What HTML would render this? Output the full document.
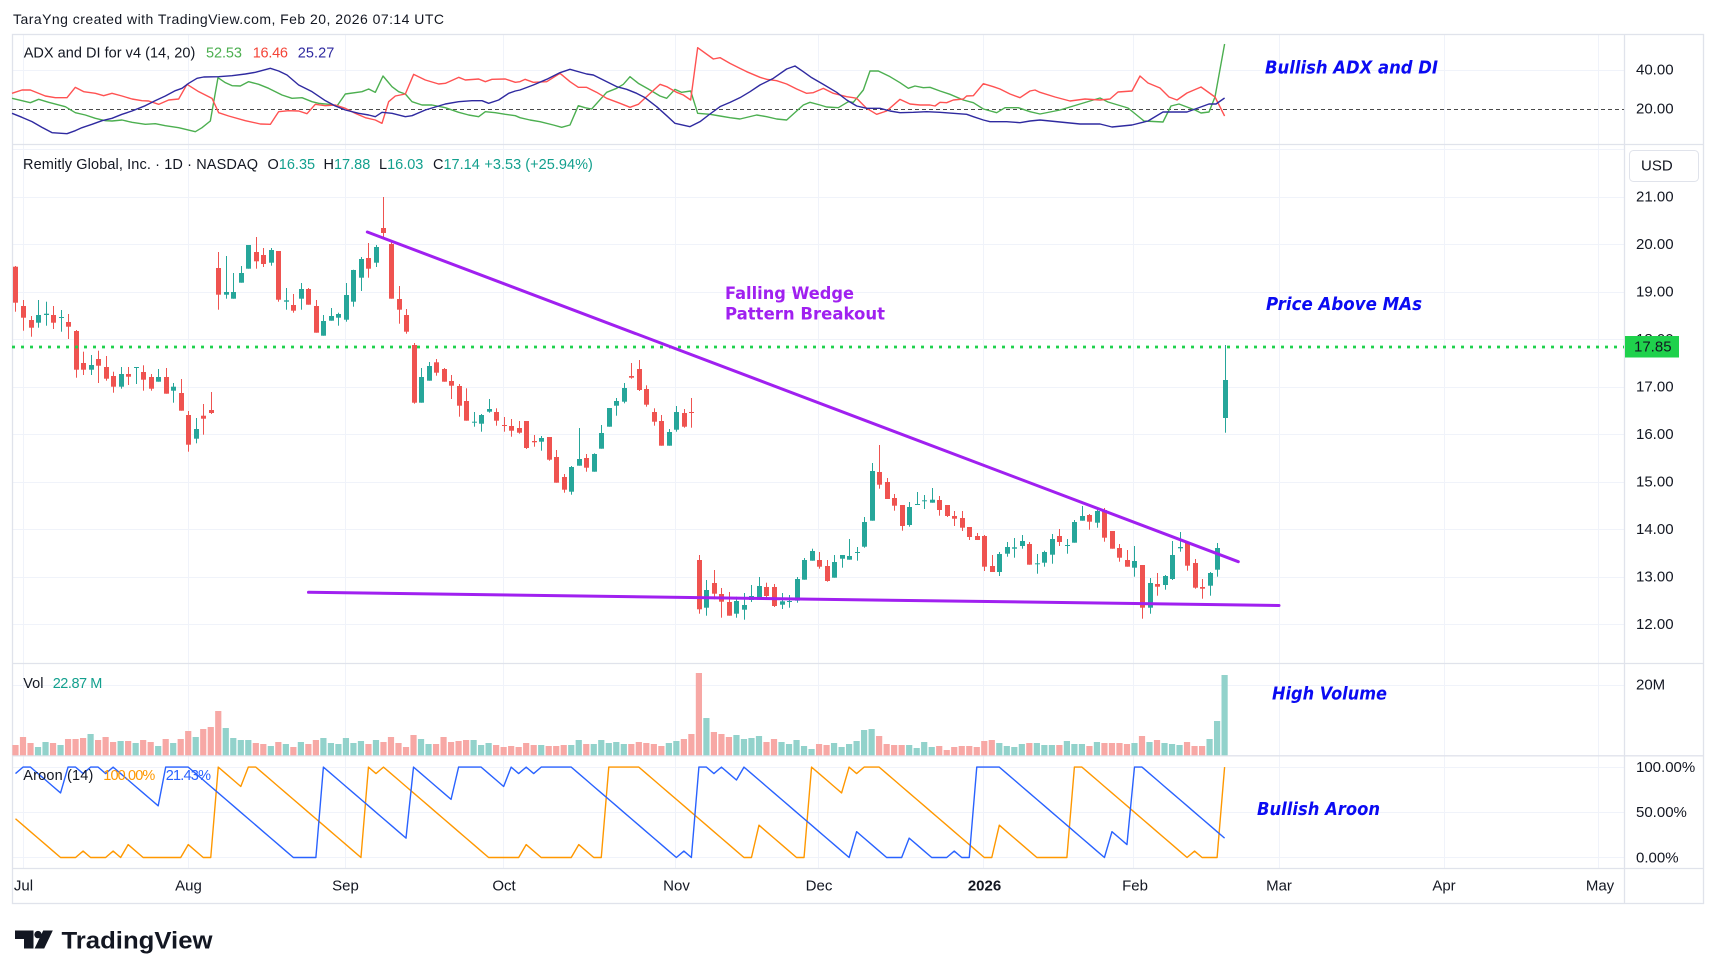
<!DOCTYPE html>
<html><head><meta charset="utf-8"><title>Remitly chart</title>
<style>
html,body{margin:0;padding:0;background:#fff;overflow:hidden}
svg{display:block}
text{font-family:"Liberation Sans",Arial,sans-serif;dominant-baseline:central}
.ax{font-size:15px;fill:#131722}
.lg{font-size:14.5px;fill:#131722}
.an{font-family:"DejaVu Sans","Liberation Sans",sans-serif;font-weight:bold;font-style:italic;font-size:17.5px;fill:#0b0bf2}
.pw{font-family:"DejaVu Sans","Liberation Sans",sans-serif;font-weight:bold;font-size:17px;fill:#a020f0}
</style></head><body>
<svg width="1717" height="978" viewBox="0 0 1717 978">
<rect x="0" y="0" width="1717" height="978" fill="#fff"/>
<g stroke="#f0f3fa" stroke-width="1">
<line x1="23.5" y1="35" x2="23.5" y2="869"/>
<line x1="188.5" y1="35" x2="188.5" y2="869"/>
<line x1="345.5" y1="35" x2="345.5" y2="869"/>
<line x1="503.5" y1="35" x2="503.5" y2="869"/>
<line x1="675.5" y1="35" x2="675.5" y2="869"/>
<line x1="818.5" y1="35" x2="818.5" y2="869"/>
<line x1="983.5" y1="35" x2="983.5" y2="869"/>
<line x1="1133.5" y1="35" x2="1133.5" y2="869"/>
<line x1="1279.5" y1="35" x2="1279.5" y2="869"/>
<line x1="1444.5" y1="35" x2="1444.5" y2="869"/>
<line x1="1598.5" y1="35" x2="1598.5" y2="869"/>
<line x1="12" y1="70.5" x2="1625" y2="70.5"/>
<line x1="12" y1="149.5" x2="1625" y2="149.5"/>
<line x1="12" y1="197.5" x2="1625" y2="197.5"/>
<line x1="12" y1="244.5" x2="1625" y2="244.5"/>
<line x1="12" y1="292.5" x2="1625" y2="292.5"/>
<line x1="12" y1="339.5" x2="1625" y2="339.5"/>
<line x1="12" y1="387.5" x2="1625" y2="387.5"/>
<line x1="12" y1="434.5" x2="1625" y2="434.5"/>
<line x1="12" y1="482.5" x2="1625" y2="482.5"/>
<line x1="12" y1="529.5" x2="1625" y2="529.5"/>
<line x1="12" y1="577.5" x2="1625" y2="577.5"/>
<line x1="12" y1="624.5" x2="1625" y2="624.5"/>
<line x1="12" y1="685.5" x2="1625" y2="685.5"/>
<line x1="12" y1="767.5" x2="1625" y2="767.5"/>
<line x1="12" y1="812.5" x2="1625" y2="812.5"/>
<line x1="12" y1="857.5" x2="1625" y2="857.5"/>
</g>
<g stroke="#e0e3eb" stroke-width="1.3" fill="none">
<rect x="12.5" y="34.5" width="1691" height="869"/>
<line x1="12" y1="144.5" x2="1704" y2="144.5"/>
<line x1="12" y1="663.5" x2="1704" y2="663.5"/>
<line x1="12" y1="755.8" x2="1704" y2="755.8"/>
<line x1="12" y1="868.5" x2="1704" y2="868.5"/>
<line x1="1624.5" y1="35" x2="1624.5" y2="903"/>
</g>

<line x1="12" y1="109.5" x2="1624" y2="109.5" stroke="#4a4a4a" stroke-width="1" stroke-dasharray="4 3"/>

<g id="ser"></g>

<line x1="12" y1="347" x2="1624" y2="347" stroke="#1fd14c" stroke-width="2.8" stroke-dasharray="3 6"/>
<line x1="367.3" y1="232" x2="1238.3" y2="561.7" stroke="#a020f0" stroke-width="3" stroke-linecap="round"/>
<line x1="308.5" y1="592.3" x2="1279" y2="605.5" stroke="#a020f0" stroke-width="3" stroke-linecap="round"/>

<!-- title -->
<text x="13" y="19" style="font-size:14px;fill:#131722" textLength="431">TaraYng created with TradingView.com, Feb 20, 2026 07:14 UTC</text>

<!-- legends -->
<text class="lg" x="23.7" y="53.3" textLength="171.6">ADX and DI for v4 (14, 20)</text>
<text class="lg" x="206" y="53.3" style="fill:#4caf50" textLength="36">52.53</text>
<text class="lg" x="252.7" y="53.3" style="fill:#f44336" textLength="35.3">16.46</text>
<text class="lg" x="297.7" y="53.3" style="fill:#2f2aa0" textLength="36.6">25.27</text>

<text class="lg" x="23" y="165" textLength="235">Remitly Global, Inc. · 1D · NASDAQ</text>
<text class="lg" x="267.5" y="165"><tspan>O</tspan><tspan style="fill:#13a08e">16.35</tspan></text>
<text class="lg" x="323.5" y="165"><tspan>H</tspan><tspan style="fill:#13a08e">17.88</tspan></text>
<text class="lg" x="379" y="165"><tspan>L</tspan><tspan style="fill:#13a08e">16.03</tspan></text>
<text class="lg" x="433" y="165"><tspan>C</tspan><tspan style="fill:#13a08e">17.14</tspan></text>
<text class="lg" x="484.4" y="165" style="fill:#13a08e" textLength="108.5">+3.53 (+25.94%)</text>

<text class="lg" x="23.3" y="684">Vol</text>
<text class="lg" x="52.7" y="684" style="fill:#13a08e" textLength="49.6">22.87 M</text>

<text class="lg" x="23.3" y="776" textLength="70">Aroon (14)</text>
<text class="lg" x="103.3" y="776" style="fill:#ff9800" textLength="52">100.00%</text>
<text class="lg" x="165.7" y="776" style="fill:#2962ff" textLength="45.3">21.43%</text>

<!-- axis labels -->
<text class="ax" x="1636" y="70">40.00</text>
<text class="ax" x="1636" y="109">20.00</text>
<rect x="1629.5" y="150.5" width="69" height="31" rx="4" fill="#fff" stroke="#e0e3eb"/>
<text class="ax" x="1641" y="166">USD</text>
<text class="ax" x="1636" y="197">21.00</text>
<text class="ax" x="1636" y="244.5">20.00</text>
<text class="ax" x="1636" y="292">19.00</text>
<text class="ax" x="1636" y="339.5">18.00</text>
<text class="ax" x="1636" y="387">17.00</text>
<text class="ax" x="1636" y="434.5">16.00</text>
<text class="ax" x="1636" y="482">15.00</text>
<text class="ax" x="1636" y="529.5">14.00</text>
<text class="ax" x="1636" y="577">13.00</text>
<text class="ax" x="1636" y="624.5">12.00</text>
<rect x="1625" y="336" width="54" height="21.5" fill="#1fd14c"/>
<text class="ax" x="1634" y="347">17.85</text>
<text class="ax" x="1636" y="685">20M</text>
<text class="ax" x="1636" y="767.5">100.00%</text>
<text class="ax" x="1636" y="812.5">50.00%</text>
<text class="ax" x="1636" y="858">0.00%</text>

<g class="ax" text-anchor="middle">
<text class="ax" x="23.5" y="886">Jul</text>
<text class="ax" x="188.5" y="886">Aug</text>
<text class="ax" x="345.5" y="886">Sep</text>
<text class="ax" x="504" y="886">Oct</text>
<text class="ax" x="676.5" y="886">Nov</text>
<text class="ax" x="819" y="886">Dec</text>
<text class="ax" x="984.5" y="886" style="font-weight:bold">2026</text>
<text class="ax" x="1135" y="886">Feb</text>
<text class="ax" x="1279" y="886">Mar</text>
<text class="ax" x="1444" y="886">Apr</text>
<text class="ax" x="1600" y="886">May</text>
</g>

<!-- annotations -->
<text class="an" x="1265" y="68.5" textLength="173" lengthAdjust="spacingAndGlyphs">Bullish ADX and DI</text>
<text class="an" x="1266" y="305" textLength="156" lengthAdjust="spacingAndGlyphs">Price Above MAs</text>
<text class="an" x="1272" y="694.5" textLength="115" lengthAdjust="spacingAndGlyphs">High Volume</text>
<text class="an" x="1257" y="810" textLength="123" lengthAdjust="spacingAndGlyphs">Bullish Aroon</text>
<text class="pw" x="725" y="294" textLength="129" lengthAdjust="spacingAndGlyphs">Falling Wedge</text>
<text class="pw" x="725" y="314.5" textLength="160" lengthAdjust="spacingAndGlyphs">Pattern Breakout</text>

<!-- logo -->
<path d="M15 930.5 H33.5 V948.5 H24 V939 H15 Z" fill="#131722"/>
<circle cx="38" cy="934.6" r="3.7" fill="#131722"/>
<path d="M43.2 930.5 H52.8 L44.2 948.5 H34.6 Z" fill="#131722"/>
<text x="61.5" y="948.3" style="dominant-baseline:auto;font-size:24.5px;font-weight:bold;fill:#131722" textLength="151" lengthAdjust="spacingAndGlyphs">TradingView</text>
</svg>

<script>
(function(){
var X=function(i){return 23+i*7.51;};
var C=[
[-1,'r',266,266.7,302.7,311.7],[0,'r',300,306,317.7,330.7],[1,'r',316,320,327.7,336.7],[2,'g',300,322.7,315,327.7],[3,'g',301.7,315,313.7,325.7],
[4,'r',306,315,322.7,329],[5,'g',310,317.7,317,331.7],[6,'r',314,322,326.7,339],[7,'r',330,331,369.7,377.7],[8,'r',351.7,363,369.7,375],
[9,'g',355,369.7,365,375],[10,'r',350.7,359,365.7,383],[11,'r',356,367,378.7,380.7],[12,'r',371.7,376,386.7,392.7],[13,'g',367,386.7,374,388.7],
[14,'r',367,374,376.7,385],[15,'g',367,368,367,384],[16,'r',365.3,372,379.7,390.7],[17,'r',374,377,388.7,390.7],[18,'g',369,381.7,377,381.7],
[19,'r',368,377,393.7,393.7],[20,'g',383,390.7,386.7,402.7],[21,'r',379,393,410.7,410.7],[22,'r',411,415,444.7,451.7],[23,'g',418,438.7,429,443.3],
[24,'r',404,415.7,418.7,434.7],[25,'r',392,410,413,414],[26,'r',252,268,294.7,309.7],[27,'g',256,294.7,292,298.7],[28,'g',273,298.7,292,298.7],
[29,'g',266,282.7,273,282.7],[30,'g',245,268.7,245,268.7],[31,'r',237,252,261.3,268.7],[32,'r',248,255,264,267],[33,'g',248,262.7,250,265.7],
[34,'r',251,251,299.7,301.7],[35,'g',288,301.7,300.3,309.7],[36,'r',294,305,310.7,312.7],[37,'g',283,298.7,289,309.7],[38,'r',288,289,304.7,304.7],
[39,'r',300,306,332.7,332.7],[40,'g',315,335.7,321,335.7],[41,'g',308,320.7,316,320.7],[42,'g',312.7,317.7,314,325.7],[43,'g',283,319.7,295,321.7],
[44,'g',269.7,301.7,270,306.7],[45,'g',257,277.7,259,291],[46,'r',243,258,268.7,277.7],[47,'g',245,262.7,247,267],[48,'r',197,228,233,237],
[49,'r',240,244,298.7,298.7],[50,'r',286,299,309.7,323.7],[51,'r',309,315,331.7,333.7],[52,'r',343,345,402.7,403.7],[53,'g',368,402.7,377,402.7],
[54,'g',362,380.7,366,380.7],[55,'r',359,362.3,372.7,375.7],[56,'r',368,369,381.7,381.7],[57,'r',375,381,385.7,399],[58,'r',384,386,405.7,416.7],
[59,'r',388.3,401,420.7,420.7],[60,'g',412,422.3,421.7,426.7],[61,'g',414,423.7,415,431.7],[62,'g',399,411.7,409,412.7],[63,'r',408.3,412,420.7,425.7],
[64,'r',417,425,425.7,431.7],[65,'r',419,426,430.7,436.7],[66,'r',421,428,432.7,433.7],[67,'r',421,421,448,449],[68,'r',435,441,442.3,446.7],
[69,'g',436,441.7,438,450.7],[70,'r',437,437,459.7,460.7],[71,'r',450,457,482.7,482.7],[72,'r',474,477,489.7,492.7],[73,'g',466,491.7,467,494.7],
[74,'g',428,465.7,459,465.7],[75,'r',454,458,467.7,471.7],[76,'g',453.3,471.7,454,471.7],[77,'g',425,448.7,433,448.7],[78,'g',408,426.7,408,426.7],
[79,'g',398,405.7,401,415.7],[80,'g',383,401.7,388,403.3],[81,'r',363,376,377.7,378.7],[82,'r',360,369,390,391],[83,'r',385.3,389,404.7,406.7],
[84,'r',408.3,412,421.7,425.7],[85,'r',415,421,445.7,445.7],[86,'g',429,445.7,432,445.7],[87,'g',406,429.7,412,431.7],[88,'r',409,413,426.7,427.7],
[89,'r',398,412,413,427.7],[90,'r',555,560,609.3,613.7],[91,'g',580,607.7,590,615.7],[92,'r',570,583,593.7,599.3],[93,'r',588,594,601.7,617.7],
[94,'r',592,602,615.7,615.7],[95,'g',596.7,613.7,601,617.7],[96,'g',593,609.7,605,619.7],[97,'g',585,600,596,602],[98,'g',577,599.7,586,599.7],
[99,'r',582.7,587,596,599.7],[100,'r',584,587,606,607],[101,'g',593,604.7,601.3,609],[102,'g',595,601.7,601,607.7],[103,'g',577,600.7,579,602.7],
[104,'g',558,579.7,560,579.7],[105,'g',548.7,560.7,551,560.7],[106,'r',552,560,566.7,568.7],[107,'r',560,566,581,581.7],[108,'g',555,577.7,562,577.7],
[109,'g',555,558.7,555,567.7],[110,'g',539,559.7,556,559.7],[111,'g',547,552.7,552,560.7],[112,'g',517,546.7,522,547.7],[113,'g',463,520.7,471,520.7],
[114,'r',445,472,484.7,488.7],[115,'r',478,482,499,499],[116,'r',494,498,505.7,510.7],[117,'r',505,505,526,530.7],[118,'g',502,525,507,526.7],
[119,'g',492,504.7,504,504.7],[120,'g',495,501,500.3,509],[121,'g',488,502.7,499.7,502.7],[122,'r',496,500,510,515.7],[123,'r',505,505,516,517],
[124,'r',511,516,518.7,526],[125,'r',511,518,527.7,531],[126,'r',527,527,537,540],[127,'r',533,536,540,540],[128,'r',535,536,566.7,571],
[129,'r',555,566,572,572],[130,'g',552,572,554,576],[131,'g',542,553.7,547,556.7],[132,'g',538,548.7,547.3,557.7],[133,'g',535,546,541,548.7],
[134,'r',542,544,564.7,564.7],[135,'g',554,563.7,563.3,573.7],[136,'g',550.7,562.7,552,566.7],[137,'g',534,554.7,539,563.7],[138,'r',529,536,542,546],
[139,'g',539,545.7,545,553.7],[140,'g',520,542.7,522,542.7],[141,'g',506,520.7,516,520.7],[142,'r',514,515,521.7,529.7],[143,'g',507,522.7,511,527.7],
[144,'r',508,510,537.7,541.7],[145,'r',531,531,548.7,548.7],[146,'r',544,548,557.7,561.7],[147,'r',550,560,566.7,566.7],[148,'g',546,567.7,561,576.7],
[149,'r',565,565,607.7,618.7],[150,'g',578,607.7,583,613.7],[151,'r',573,584,586.7,595.7],[152,'g',575,585,576,589.7],[153,'g',541,579,555,580],
[154,'g',532,548.3,547,551.7],[155,'r',541,542,565.7,570.7],[156,'r',559,563,587.7,588.7],[157,'r',579,587,588.7,598.7],[158,'g',572,585.7,573,595.7],
[159,'g',543,569.7,548,576.7],[160,'g',345,418,380,432.7]
];
var V=[745,737,743,747,742,743,745,739,739,738,
734,740,737,742,741,741,743,740,742,746,
739,743,739,731,737,729,727,711,728,738,
740,740,743,744,746,742,744,747,742,744,
740,738,743,744,738,743,741,744,740,742,
737,743,747,735,739,744,744,737,742,741,
740,740,745,743,745,747,746,747,743,745,
745,746,746,745,745,740,744,744,740,743,
742,744,744,742,743,744,746,743,741,739,
734,673,718,732,734,737,735,739,738,736,
742,739,742,744,740,746,749,744,745,743,
747,744,741,730,729,736,744,745,745,745,
748,742,747,746,750,747,746,746,747,741,
740,743,746,747,744,743,743,745,745,745,
741,744,744,746,742,743,743,743,744,743,
736,742,740,743,744,745,742,746,746,739,
721,675];
var UP=[6,5,4,3,2,1,0,0,0,1,0,0,0,1,0,2,1,0,0,0,0,0,0,2,1,0,0,
14,13,12,11,14,14,13,12,11,10,9,8,7,6,5,4,3,2,1,0,
14,13,14,13,12,11,10,9,8,7,6,5,4,3,2,1,0,
0,0,0,0,2,1,0,0,0,0,0,2,1,0,0,
14,14,14,14,14,13,12,11,10,9,8,7,6,5,4,3,2,1,0,0,
5,4,3,2,1,0,0,
14,13,12,11,10,14,13,14,14,14,
13,12,11,10,9,8,7,6,5,4,3,2,1,0,
0,5,4,3,2,1,0,0,0,0,0,
14,14,13,12,11,10,9,8,7,6,5,4,3,2,1,0,
1,0,0,0,14];
var DN=[13,14,14,13,12,11,10,14,14,13,14,14,13,14,13,12,11,10,9,8,
14,14,14,14,13,12,11,10,9,8,7,6,5,4,3,2,1,0,0,0,0,
14,13,12,11,10,9,8,7,6,5,4,3,
14,13,12,11,10,9,
14,14,14,14,13,12,11,14,13,14,13,14,14,14,14,14,
13,12,11,10,9,8,7,6,5,4,3,2,1,0,1,0,
14,14,13,14,13,12,
14,13,12,11,10,9,8,7,6,5,4,3,2,1,0,
4,3,2,1,0,0,0,3,2,1,0,0,0,1,0,0,
14,14,14,14,13,12,11,10,9,8,7,6,5,4,3,2,1,0,
4,3,2,
14,14,13,12,11,10,9,8,7,6,5,4,3];
var h='';
var k,i,x,c,col;
// volume
for(k=0;k<C.length;k++){
  i=C[k][0];x=X(i);col=C[k][1]==='g'?'#92d2cb':'#f7a8a5';
  var t=V[k]||745;
  h+='<rect x="'+(x-3.1).toFixed(2)+'" y="'+t+'" width="6.2" height="'+(755.3-t).toFixed(2)+'" fill="'+col+'"/>';
}
// candles
for(k=0;k<C.length;k++){
  c=C[k];i=c[0];x=Math.round(X(i));col=c[1]==='g'?'#26a69a':'#ef5350';
  var top=Math.min(c[3],c[4]),bot=Math.max(c[3],c[4]);
  h+='<rect x="'+x+'" y="'+c[2]+'" width="1" height="'+(c[5]-c[2]).toFixed(2)+'" fill="'+col+'"/>';
  h+='<rect x="'+(x-2)+'" y="'+top+'" width="5" height="'+Math.max(1,bot-top).toFixed(2)+'" fill="'+col+'"/>';
}
// aroon
function ar(arr,col){
  var p=[];
  for(var j=0;j<arr.length;j++){var ii=j-1;p.push(X(ii).toFixed(2)+','+(857.5-arr[j]*90.4/14).toFixed(2));}
  return '<polyline points="'+p.join(' ')+'" fill="none" stroke="'+col+'" stroke-width="1.4" stroke-linejoin="round"/>';
}
h+=ar(UP,'#ff9800');
h+=ar(DN,'#2962ff');
// ADX
function z(a,ox){var r=[];for(var j=0;j<a.length;j++){r.push([ox+a[j][0]/3,35+a[j][1]/3]);}return r;}
var red=z([[0,175],[30,165],[55,165],[100,183],[130,188],[165,188],[190,157],[215,170],[250,175],[275,182],[300,175],[330,183],[360,192],[390,197],[410,198],[440,208],[470,195],[500,192],[525,148],[560,170],[600,190],[620,233],[650,243],[700,257],[745,267],[775,268],[800,230],[830,227],[860,228],[885,236],[910,208],[940,212],[970,210],[1000,220],[1030,235],[1060,248],[1090,255],[1110,265],[1130,200],[1150,183],[1180,177],[1205,118],[1240,135],[1280,147],[1300,145],[1340,127],[1360,135],[1400,132],[1420,140],[1440,133],[1480,132],[1510,142]],12)
.concat(z([[0,140],[15,133],[40,142],[80,140],[120,115],[150,140],[175,157],[200,157],[230,172],[260,190],[300,205],[330,217],[355,208],[385,180],[420,148],[440,155],[470,172],[490,180],[512,195],[533,38],[580,72],[600,68],[630,85],[660,100],[680,110],[720,127],[740,133],[770,137],[800,147],[830,162],[860,175],[880,173],[910,160],[940,175],[980,185],[1000,188],[1010,190],[1040,220],[1070,238],[1100,228],[1140,193],[1170,207],[1200,210],[1230,210],[1245,213],[1260,202],[1280,203],[1300,195],[1330,192],[1340,183],[1360,182],[1390,146],[1420,155],[1440,162],[1470,177],[1500,188],[1530,168],[1545,165],[1560,172]],520))
.concat([[1055,97],[1070,101],[1085,99],[1100,100],[1110,99],[1118,92],[1132,91],[1140,76],[1148,83],[1160,88],[1169,97],[1177,100],[1187,93],[1201,87],[1215,97],[1224.6,116]]);
var grn=z([[0,190],[30,197],[55,203],[80,193],[110,202],[160,215],[190,233],[220,240],[250,250],[280,257],[300,258],[330,255],[360,262],[400,268],[430,266],[460,272],[500,278],[550,290],[570,278],[595,258],[618,128],[640,143],[660,152],[685,153],[710,140],[740,148],[770,160],[810,180],[840,190],[870,188],[900,200],[920,205],[950,208],[975,213],[1000,177],[1050,170],[1070,162],[1090,172],[1113,123],[1140,155],[1160,170],[1180,177],[1200,200],[1230,210],[1260,210],[1300,218],[1340,232],[1370,240],[1400,245],[1420,230],[1450,233],[1480,238],[1510,242]],12)
.concat(z([[0,248],[30,255],[60,260],[100,270],[125,277],[150,270],[175,212],[195,218],[215,222],[260,172],[290,160],[310,148],[330,125],[355,145],[385,162],[420,183],[440,190],[465,163],[485,172],[512,168],[533,235],[570,238],[600,243],[630,248],[660,252],[710,240],[740,245],[770,252],[800,255],[850,210],[870,202],[900,210],[920,216],[955,218],[985,200],[1000,202],[1030,165],[1050,108],[1075,108],[1110,125],[1140,143],[1165,160],[1185,153],[1210,158],[1230,157],[1260,168],[1290,178],[1330,195],[1360,203],[1390,222],[1430,233],[1455,218],[1495,218],[1530,230],[1560,237]],520))
.concat([[1060,110],[1080,104],[1100,98],[1108,102],[1128,108],[1144,121],[1163,122],[1171,106],[1179,104],[1195,110],[1201,113],[1209,112],[1215,97],[1224.6,44]]);
var blu=z([[0,235],[30,247],[60,260],[90,277],[120,293],[165,296],[190,287],[210,278],[240,268],[270,257],[300,250],[330,238],[360,228],[400,212],[430,197],[460,183],[490,167],[510,160],[530,145],[555,130],[575,126],[620,125],[660,122],[700,117],[730,112],[775,100],[800,108],[825,120],[860,150],[900,170],[940,197],[970,213],[1000,225],[1040,235],[1070,240],[1090,245],[1110,232],[1140,235],[1180,245],[1200,242],[1240,225],[1280,213],[1300,207],[1340,200],[1380,197],[1410,197],[1430,205],[1460,195],[1490,175],[1510,168]],12)
.concat(z([[0,165],[40,150],[80,133],[120,113],[150,103],[200,117],[220,120],[250,135],[290,155],[320,163],[350,175],[375,188],[410,215],[440,242],[465,265],[510,275],[540,260],[570,237],[600,215],[630,202],[660,188],[690,170],[720,150],[760,130],[800,102],[825,93],[850,110],[875,128],[910,148],[950,172],[980,195],[1010,213],[1040,220],[1080,220],[1110,228],[1140,233],[1180,232],[1220,230],[1260,232],[1300,235],[1340,238],[1360,245],[1390,255],[1410,260],[1460,260],[1500,263],[1530,258],[1560,255]],520))
.concat([[1060,122],[1080,124],[1100,124],[1112,127],[1132,125],[1148,121],[1163,112],[1187,112],[1209,104],[1216,104],[1224.6,98]]);
function pl(a,col){var p=[];for(var j=0;j<a.length;j++){p.push(a[j][0].toFixed(2)+','+a[j][1].toFixed(2));}
return '<polyline points="'+p.join(' ')+'" fill="none" stroke="'+col+'" stroke-width="1.4" stroke-linejoin="round"/>';}
h+=pl(grn,'#4caf50');
h+=pl(red,'#ff5252');
h+=pl(blu,'#2f2aa0');
document.getElementById('ser').innerHTML=h;
})();
</script>
</body></html>
